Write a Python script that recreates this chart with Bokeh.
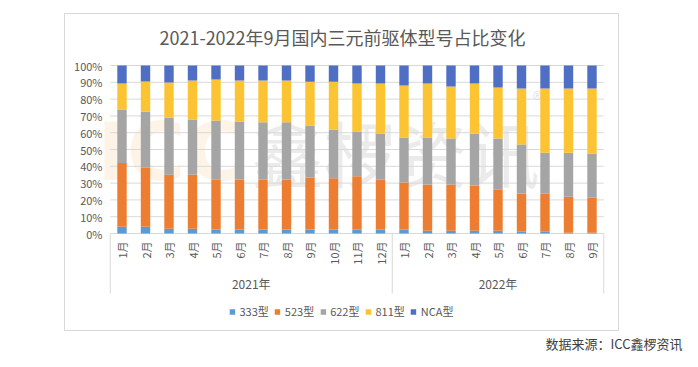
import numpy as np
from bokeh.plotting import figure
from bokeh.models import Range1d, FixedTicker, ColumnDataSource, Title
from bokeh.embed import file_html
from bokeh.resources import INLINE
from bokeh.core.properties import value

# ---------------- data ----------------
title = "2021-2022年9月国内三元前驱体型号占比变化"
source_note = "数据来源：ICC鑫椤资讯"
years = ["2021年", "2022年"]
months_2021 = ["1月", "2月", "3月", "4月", "5月", "6月", "7月", "8月", "9月", "10月", "11月", "12月"]
months_2022 = ["1月", "2月", "3月", "4月", "5月", "6月", "7月", "8月", "9月"]
series_names = ["333型", "523型", "622型", "811型", "NCA型"]

s333 = [4.0, 4.0, 2.8, 2.8, 2.4, 2.4, 2.4, 2.4, 2.4, 2.4, 2.4, 2.4,
        2.4, 1.6, 1.6, 1.6, 1.6, 1.0, 1.0, 0.4, 0.4]
s523 = [37.9, 35.2, 32.2, 32.2, 29.6, 29.6, 29.7, 29.7, 30.9, 30.5, 31.7, 29.7,
        28.0, 27.6, 27.6, 26.9, 24.5, 22.8, 22.7, 21.5, 20.9]
s622 = [31.9, 33.4, 34.0, 32.8, 35.2, 34.6, 34.1, 34.1, 31.0, 29.0, 26.6, 27.4,
        26.7, 27.9, 27.3, 30.9, 30.4, 29.2, 24.4, 26.2, 26.2]
s811 = [15.5, 17.9, 20.9, 23.3, 24.5, 24.5, 24.9, 24.9, 26.1, 28.5, 28.6, 29.8,
        31.0, 32.2, 31.0, 29.9, 30.4, 33.3, 38.2, 38.2, 38.8]
sNCA = [10.7, 9.5, 10.1, 8.9, 8.3, 8.9, 8.9, 8.9, 9.6, 9.6, 10.7, 10.7,
        11.9, 10.7, 12.5, 10.7, 13.1, 13.7, 13.7, 13.7, 13.7]

y_ticks = [0, 10, 20, 30, 40, 50, 60, 70, 80, 90, 100]
y_tick_labels = ["0%", "10%", "20%", "30%", "40%", "50%", "60%", "70%", "80%", "90%", "100%"]

# ---------------- styles ----------------
colors = ["#5B9BD5", "#ED7D31", "#A5A5A5", "#FCC332", "#4F6FC4"]
FONT = "Noto Sans CJK SC"
GRID = "#d9d9d9"
TXT = "#595959"

months = months_2021 + months_2022
n = len(months)
xs = np.arange(n) + 0.5

# frame = chart border box; data mapping: 23.5 px per category, 1.68 px per %
PX_X = 23.5
PX_Y = 1.68
def dx(px):
    return (px - 109.75) / PX_X
def dy(py):
    return (233 - py) / PX_Y

p = figure(width=690, height=359,
           x_range=Range1d(dx(64), dx(618)), y_range=Range1d(dy(330), dy(13)),
           x_axis_type=None, output_backend="svg", toolbar_location=None,
           min_border_left=64, min_border_right=72, min_border_top=13, min_border_bottom=29)
p.outline_line_color = GRID
p.outline_line_width = 1
p.ygrid.visible = False
p.background_fill_color = "white"
p.border_fill_color = "white"

# y axis (labels placed inside the box)
ya = p.yaxis[0]
ya.ticker = FixedTicker(ticks=y_ticks)
ya.major_label_overrides = {t: l for t, l in zip(y_ticks, y_tick_labels)}
ya.axis_line_color = None
ya.major_tick_line_color = None
ya.minor_tick_line_color = None
ya.major_tick_out = 0
ya.major_tick_in = 0
ya.major_label_standoff = -38
ya.major_label_text_font = FONT
ya.major_label_text_font_size = "11px"
ya.major_label_text_color = TXT

# watermark
p.text(x=[dx(170)], y=[dy(152)], text=["ICC"], text_font=value("DejaVu Sans"),
       text_font_size="80px", text_font_style="bold", text_color="#F6C27A", text_alpha=0.18,
       text_align="center", text_baseline="middle")
p.text(x=[dx(395)], y=[dy(150)], text=["鑫椤资讯"], text_font=value(FONT),
       text_font_size="72px", text_color="#9a9a9a", text_alpha=0.2,
       text_align="center", text_baseline="middle")
p.text(x=[dx(537)], y=[dy(98)], text=["®"], text_font=value(FONT),
       text_font_size="20px", text_color="#9a9a9a", text_alpha=0.3,
       text_align="center", text_baseline="middle")

# gridlines
p.segment(x0=0, x1=n, y0=y_ticks, y1=y_ticks, line_color=GRID, line_width=1)

# bars
src = ColumnDataSource(dict(x=xs, s333=s333, s523=s523, s622=s622, s811=s811, sNCA=sNCA))
p.vbar_stack(["s333", "s523", "s622", "s811", "sNCA"], x="x", width=0.4, source=src,
             fill_color=colors, line_color=None, legend_label=series_names)

# category axis region
bounds = [0, len(months_2021), n]
p.segment(x0=bounds, x1=bounds, y0=0, y1=dy(293), line_color=GRID, line_width=1)
p.text(x=xs, y=[dy(241)] * n, text=months, angle=np.pi / 2, text_font=value(FONT),
       text_font_size="11px", text_color=TXT, text_align="right", text_baseline="middle")
year_x = [len(months_2021) / 2, len(months_2021) + len(months_2022) / 2]
p.text(x=year_x, y=[dy(283)] * 2, text=years, text_font=value(FONT),
       text_font_size="12px", text_color=TXT, text_align="center", text_baseline="middle")

# title
p.text(x=[dx(342)], y=[dy(36)], text=[title], text_font=value(FONT),
       text_font_size="18px", text_color=TXT, text_align="center", text_baseline="middle")

# legend
lg = p.legend[0]
lg.location = "bottom_center"
lg.orientation = "horizontal"
lg.border_line_color = None
lg.background_fill_alpha = 0
lg.glyph_width = 7
lg.glyph_height = 7
lg.label_standoff = 4
lg.spacing = 5
lg.padding = 0
lg.margin = 11
lg.label_height = 14
lg.label_text_font = FONT
lg.label_text_font_size = "11px"
lg.label_text_color = TXT

# source note (below the box, right-aligned past the frame edge)
p.add_layout(Title(text=source_note, align="right", offset=-64, standoff=4,
                   vertical_align="middle", text_font=FONT, text_font_size="13px",
                   text_font_style="normal", text_color="#404040"), "below")

open("out.html", "w").write(file_html(p, INLINE))
